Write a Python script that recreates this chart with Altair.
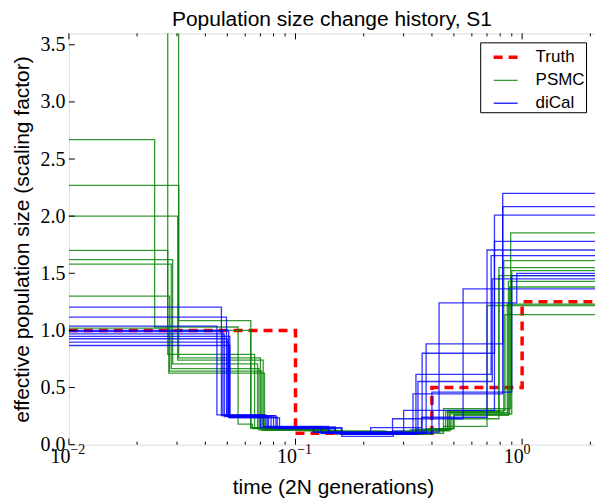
import altair as alt
import pandas as pd

# ---------------- data ----------------
X_MIN = 0.01
X_MAX = 10 ** (527 / 227 - 2)   # right edge of the plotted range
X_END = 3.0                      # last step extends past the right edge

truth_times = [0.01, 0.1, 0.4, 1.0]
truth_values = [1.0, 0.1, 0.5, 1.25]

psmc_times = [
    [0.01, 0.0273, 0.066, 0.12, 0.30, 0.45, 0.89],
    [0.01, 0.0305, 0.070, 0.13, 0.35, 0.47, 0.83],
    [0.01, 0.0239, 0.0558, 0.0645, 0.11, 0.25, 0.45, 0.70],
    [0.01, 0.0305, 0.0635, 0.13, 0.33, 0.48, 0.90],
    [0.01, 0.0302, 0.072, 0.14, 0.38, 0.50, 0.87],
    [0.01, 0.0273, 0.0635, 0.12, 0.32, 0.46, 0.79],
    [0.01, 0.0287, 0.068, 0.15, 0.34, 0.49, 0.79],
    [0.01, 0.0283, 0.069, 0.14, 0.36, 0.47, 0.84],
    [0.01, 0.0278, 0.071, 0.16, 0.40, 0.50, 0.88],
    [0.01, 0.0276, 0.073, 0.14, 0.37, 0.48, 0.86],
]
psmc_values = [
    [4.5, 0.79, 0.145, 0.11, 0.12, 0.315, 1.853],
    [5.0, 0.76, 0.14, 0.10, 0.13, 0.286, 1.611],
    [2.67, 1.03, 0.18, 0.14, 0.12, 0.10, 0.16, 1.218],
    [2.27, 1.086, 0.145, 0.115, 0.12, 0.27, 1.524],
    [2.0, 0.74, 0.135, 0.10, 0.14, 0.257, 1.43],
    [1.70, 1.0, 0.15, 0.11, 0.13, 0.29, 1.48],
    [1.62, 0.708, 0.14, 0.095, 0.135, 0.227, 1.55],
    [1.58, 0.665, 0.13, 0.10, 0.125, 0.30, 1.139],
    [1.30, 0.644, 0.125, 0.09, 0.14, 0.265, 1.38],
    [1.02, 0.627, 0.13, 0.105, 0.13, 0.28, 1.23],
]

dical_times = [
    [0.01, 0.0471, 0.080, 0.12, 0.43, 0.947],
    [0.01, 0.0496, 0.076, 0.13, 0.377, 0.821],
    [0.01, 0.0450, 0.072, 0.14, 0.362, 0.755],
    [0.01, 0.0507, 0.083, 0.15, 0.34, 0.73],
    [0.01, 0.0485, 0.078, 0.16, 0.347, 0.738],
    [0.01, 0.0513, 0.085, 0.14, 0.33, 0.821],
    [0.01, 0.0500, 0.070, 0.12, 0.268, 0.549],
    [0.01, 0.0507, 0.075, 0.15, 0.2147, 0.36, 0.70],
    [0.01, 0.0513, 0.082, 0.16, 0.27, 0.30, 0.755],
    [0.01, 0.0478, 0.074, 0.13, 0.40, 0.90],
]
dical_values = [
    [1.203, 0.255, 0.15, 0.11, 1.241, 1.50],
    [1.116, 0.25, 0.155, 0.10, 0.883, 2.199],
    [1.037, 0.26, 0.16, 0.105, 0.80, 2.01],
    [1.0, 0.24, 0.14, 0.095, 0.615, 1.655],
    [0.97, 0.245, 0.15, 0.09, 0.553, 1.451],
    [0.947, 0.235, 0.145, 0.10, 0.445, 2.083],
    [0.927, 0.25, 0.15, 0.11, 0.227, 1.364],
    [0.897, 0.24, 0.155, 0.105, 0.15, 0.24, 1.704],
    [0.868, 0.255, 0.145, 0.073, 0.12, 0.30, 1.78],
    [0.99, 0.26, 0.15, 0.10, 0.46, 1.48],
]

series_names = ["Truth", "PSMC", "diCal"]
series_colors = ["#ff0000", "#008000", "#0000ff"]

x_major = [0.01, 0.1, 1.0]
x_label_base = ["10", "10", "10"]
x_label_exp = ["\u22122", "\u22121", "0"]
x_minor = [k * 10.0 ** e for e in (-2, -1) for k in range(2, 10)] + [2.0]
y_major = [0.0, 0.5, 1.0, 1.5, 2.0, 2.5, 3.0, 3.5]

# ---------------- build table ----------------
rows = []


def add(series, run, ts, vs):
    for t, v in zip(list(ts) + [X_END], list(vs) + [vs[-1]]):
        rows.append({"series": series, "run": f"{series}-{run}", "t": t, "v": v})


add("Truth", 0, truth_times, truth_values)
for i, (ts, vs) in enumerate(zip(psmc_times, psmc_values)):
    add("PSMC", i, ts, vs)
for i, (ts, vs) in enumerate(zip(dical_times, dical_values)):
    add("diCal", i, ts, vs)
df = pd.DataFrame(rows)

W, H = 527, 412
SERIF = "Liberation Serif"
SANS = "Liberation Sans"

xscale = alt.Scale(type="log", domain=[X_MIN, X_MAX], nice=False)
yscale = alt.Scale(domain=[0, 3.6], nice=False, zero=False)

x_axis = alt.Axis(values=x_major, labels=False, ticks=False, tickSize=0,
                  domain=False, grid=False,
                  title="time (2N generations)", titleFont=SANS, titleFontSize=21,
                  titleFontWeight="normal", titleColor="black",
                  titleX=W / 2 + 1, titleY=49, titleBaseline="alphabetic",
                  titleAlign="center")
y_axis = alt.Axis(values=y_major, format=".1f", ticks=False, tickSize=0,
                  domain=False, grid=False, labelFont=SERIF, labelFontSize=20,
                  labelColor="black", labelPadding=4, labelBaseline="middle",
                  labelFlush=False, labelOverlap=False,
                  title="effective population size (scaling factor)",
                  titleFont=SANS, titleFontSize=21, titleFontWeight="normal",
                  titleColor="black", titleX=-40, titleY=H / 2, titleAngle=270,
                  titleAlign="center", titleBaseline="alphabetic")

legend = alt.Legend(title=None, orient="none", legendX=412, legendY=9,
                    strokeColor="black", fillColor="white", padding=1,
                    symbolType="stroke", symbolSize=576, symbolOffset=10.5,
                    labelFont=SANS, labelFontSize=17, labelColor="black",
                    labelOffset=16, rowPadding=2)

base = alt.Chart(df).mark_line(interpolate="step-after", clip=True).encode(
    x=alt.X("t:Q", scale=xscale, axis=x_axis),
    y=alt.Y("v:Q", scale=yscale, axis=y_axis),
    color=alt.Color("series:O",
                    scale=alt.Scale(type="ordinal", domain=series_names, range=series_colors),
                    legend=legend),
    strokeDash=alt.StrokeDash("series:O",
                              scale=alt.Scale(type="ordinal", domain=series_names,
                                              range=[[9, 6], [1, 0], [1, 0]]),
                              legend=legend),
    strokeWidth=alt.StrokeWidth("series:O",
                                scale=alt.Scale(type="ordinal", domain=series_names,
                                                range=[3.5, 1.3, 1.3]),
                                legend=legend),
    opacity=alt.Opacity("series:O",
                        scale=alt.Scale(type="ordinal", domain=series_names,
                                        range=[1.0, 0.8, 0.8]),
                        legend=legend),
    detail="run:N",
)

line_layers = [base.transform_filter(alt.datum.series == s) for s in series_names]

tick_major_df = pd.DataFrame({"t": x_major, "base": x_label_base, "exp": x_label_exp})
tick_minor_df = pd.DataFrame({"t": [v for v in x_minor if v <= X_MAX]})
ytick_df = pd.DataFrame({"v": y_major})


def xticks(data, length):
    bottom = alt.Chart(data).mark_rule(color="black", strokeWidth=1).encode(
        x=alt.X("t:Q", scale=xscale, axis=x_axis),
        y=alt.value(H), y2=alt.value(H - length))
    top = alt.Chart(data).mark_rule(color="black", strokeWidth=1).encode(
        x=alt.X("t:Q", scale=xscale, axis=x_axis),
        y=alt.value(0), y2=alt.value(length))
    return [bottom, top]


yticks = alt.Chart(ytick_df).mark_rule(color="black", strokeWidth=1).encode(
    y=alt.Y("v:Q", scale=yscale, axis=y_axis),
    x=alt.value(0), x2=alt.value(6))

# x tick labels: "10" with a superscript exponent
xlab_base = alt.Chart(tick_major_df).mark_text(
    font=SERIF, fontSize=20, align="right", baseline="alphabetic", dx=1.5, color="black"
).encode(x=alt.X("t:Q", scale=xscale, axis=x_axis), y=alt.value(H + 18), text="base:N")
xlab_exp = alt.Chart(tick_major_df).mark_text(
    font=SERIF, fontSize=14, align="left", baseline="alphabetic", dx=1.5, color="black"
).encode(x=alt.X("t:Q", scale=xscale, axis=x_axis), y=alt.value(H + 9), text="exp:N")

chart = alt.layer(
    *line_layers, *xticks(tick_major_df, 6), *xticks(tick_minor_df, 3), yticks,
    xlab_base, xlab_exp
).properties(
    width=W, height=H,
    autosize=alt.AutoSizeParams(type="none"),
    padding={"left": 69, "top": 33, "right": 0, "bottom": 54},
    title=alt.Title("Population size change history, S1", font=SANS, fontSize=21,
                    fontWeight="normal", color="black", anchor="middle",
                    baseline="alphabetic", offset=8, dy=22, frame="group"),
).configure_view(
    stroke="black", strokeWidth=1.2
).configure(background="white")

chart.save("out.html", embed_options={"renderer": "svg", "actions": False})
